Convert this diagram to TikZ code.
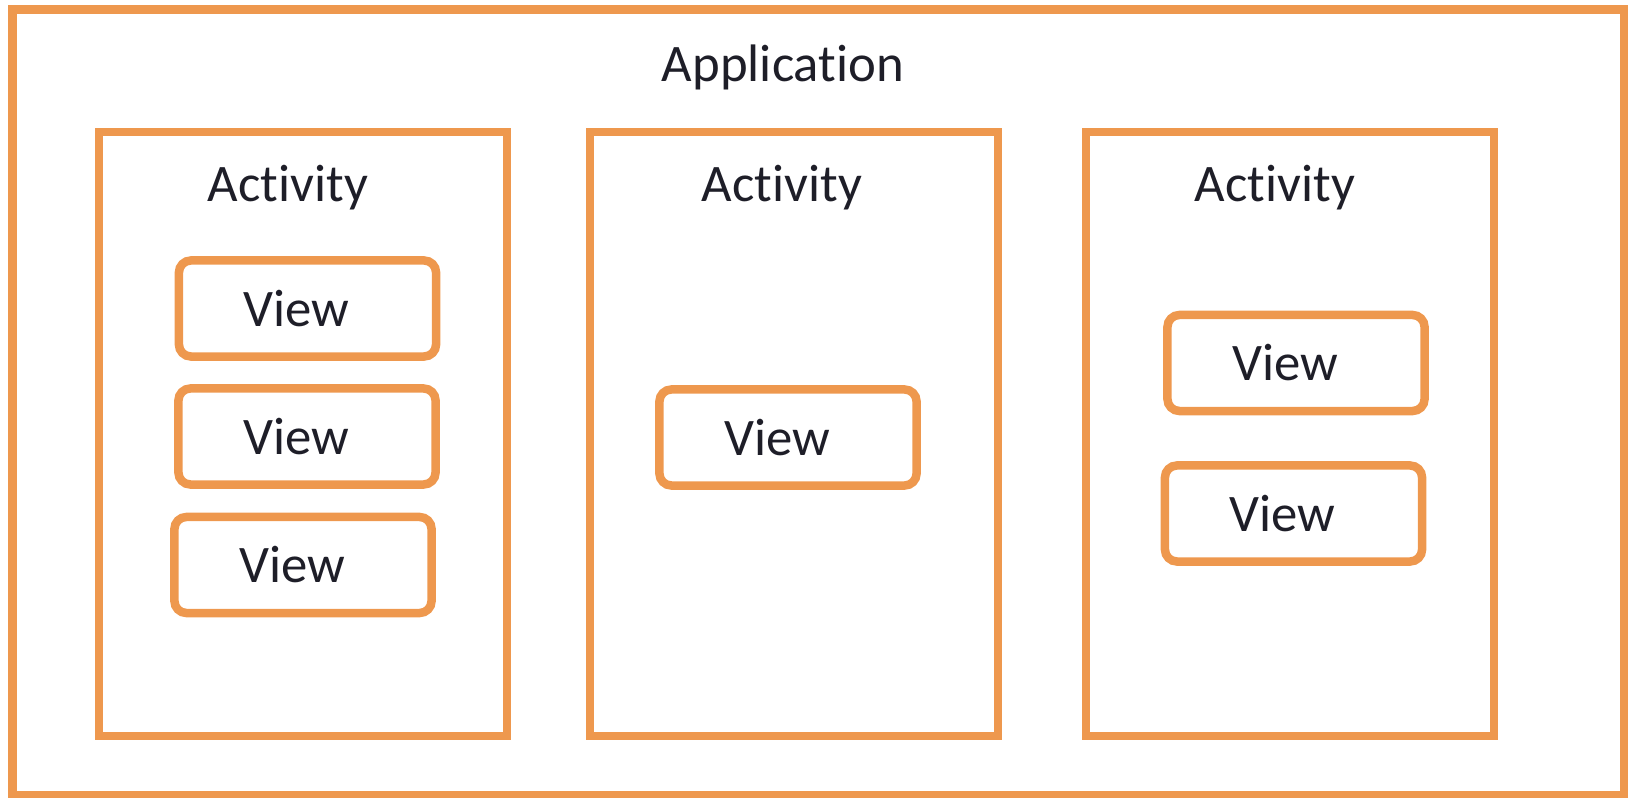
\documentclass[tikz,border=0pt]{standalone}
\usepackage{fontspec}
\setmainfont{Carlito}[Ligatures={NoCommon}]
\usetikzlibrary{positioning}
\definecolor{boxorange}{RGB}{238,152,78}
\definecolor{inkcolor}{RGB}{30,30,40}
\newcommand{\viewtext}{View\hspace*{0.22cm}} % label sits a bit left of centre
\tikzset{
  appbox/.style={draw=boxorange, line width=0.09cm, minimum width=16.11cm, minimum height=7.85cm},
  actbox/.style={draw=boxorange, line width=0.08cm, minimum width=4.07cm, minimum height=6.04cm},
  viewbox/.style={draw=boxorange, line width=0.085cm, rounded corners=0.12cm,
    minimum width=2.57cm, minimum height=0.96cm, inner sep=0pt, text=inkcolor,
    font=\fontsize{15}{18}\selectfont},
  caption/.style={inner sep=0pt, anchor=base, text=inkcolor, font=\fontsize{15}{18}\selectfont}
}

\begin{document}
\begin{tikzpicture}[x=0.01cm, y=-0.01cm]
\useasboundingbox (0,0) rectangle (1628,798);

% the application frame
\node[appbox] (app) at (818.5,402.5) {};
\node[caption] (apptitle) at (783,82) {Application};

% three activities
\foreach \x/\t/\name in {303/288/act1, 794/782/act2, 1290/1275/act3}
{
\node[actbox] (\name) at (\x,434) {};
\node[caption] (\name title) at (\t,202) {Activity};
}

% views of the 1st activity
\node[viewbox] (v11) at (307.5,308.5) {\viewtext};
\node[viewbox] (v12) at (307,436.5) {\viewtext};
\node[viewbox] (v13) at (303,565) {\viewtext};

% view of the 2nd activity
\node[viewbox] (v21) at (788,437.5) {\viewtext};

% views of the 3rd activity
\node[viewbox] (v31) at (1296,363) {\viewtext};
\node[viewbox] (v32) at (1293.5,513.5) {\viewtext};
\end{tikzpicture}
\end{document}
